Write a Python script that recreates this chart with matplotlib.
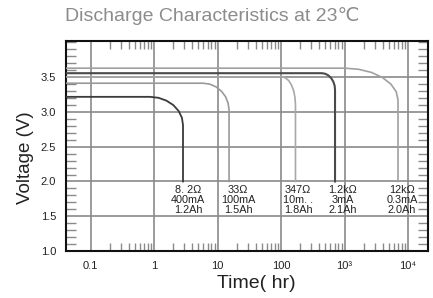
import matplotlib
matplotlib.use("Agg")
import matplotlib.pyplot as plt
from matplotlib.ticker import FixedLocator, NullFormatter

plt.rcParams['font.family'] = ['Liberation Sans', 'DejaVu Sans']

# ---- data ----
t_8r2 = [0.04, 0.865, 1.18, 1.57, 2.01, 2.44, 2.75, 2.86, 2.86]
v_8r2 = [3.217, 3.217, 3.203, 3.162, 3.099, 3.014, 2.917, 2.812, 2.0]

t_33 = [0.04, 5.91, 7.54, 9.47, 11.5, 13.4, 14.7, 15.2, 15.2]
v_33 = [3.413, 3.413, 3.400, 3.361, 3.299, 3.219, 3.125, 3.029, 2.0]

t_347 = [0.04, 103.7, 117.8, 132.8, 146.3, 158.5, 166, 169, 169]
v_347 = [3.504, 3.504, 3.489, 3.449, 3.386, 3.302, 3.206, 3.101, 2.0]

t_1k2 = [0.04, 442, 500, 560, 618, 667, 699, 709, 709]
v_1k2 = [3.557, 3.557, 3.548, 3.524, 3.485, 3.435, 3.378, 3.317, 2.0]

t_12k = [0.04, 1018, 1674, 2663, 3965, 5378, 6518, 6960, 6960]
v_12k = [3.629, 3.629, 3.613, 3.568, 3.495, 3.400, 3.291, 3.173, 2.0]

labels = ["8. 2\u03a9\n400mA\n1.2Ah", "33\u03a9\n100mA\n1.5Ah", "347\u03a9\n10m. .\n1.8Ah",
          "1.2k\u03a9\n3mA\n2.1Ah", "12k\u03a9\n0.3mA\n2.0Ah"]
label_t = [3.43, 21, 185, 947, 8050]
label_v = 1.955

x_major = [0.1, 1, 10, 100, 1000, 10000]
x_labels = ["0.1", "1", "10", "100", "10\u00b3", "10\u2074"]
y_major = [1.0, 1.5, 2.0, 2.5, 3.0, 3.5]
y_labels = ["1.0", "1.5", "2.0", "2.5", "3.0", "3.5"]

# ---- figure ----
fig = plt.figure(figsize=(4.33, 2.98), dpi=100)
ax = fig.add_axes([66/433, 1-251/298, (428-66)/433, (251-41)/298])
ax.set_xscale('log')
ax.set_xlim(0.0411, 20650)
ax.set_ylim(1.0, 4.02)

grid_c = '#8a8a8a'
for x in x_major:
    ax.axvline(x, color=grid_c, lw=1.2, zorder=1)
for y in y_major[1:]:
    ax.axhline(y, color=grid_c, lw=1.2, zorder=1)

ax.plot(t_12k, v_12k, color='#a0a0a0', lw=1.2, zorder=3)
ax.plot(t_1k2, v_1k2, color='#4a4a4a', lw=1.5, zorder=4)
ax.plot(t_347, v_347, color='#a8a8a8', lw=1.2, zorder=3)
ax.plot(t_33, v_33, color='#9a9a9a', lw=1.2, zorder=3)
ax.plot(t_8r2, v_8r2, color='#3a3a3a', lw=1.3, zorder=4)

for s, tx in zip(labels, label_t):
    ax.text(tx, label_v, s, ha='center', va='top', fontsize=7.8, color='#222222',
            linespacing=1.0, zorder=5)

ax.xaxis.set_major_locator(FixedLocator(x_major))
ax.set_xticklabels(x_labels)
minor_x = [m * d for d in [0.1, 1, 10, 100, 1000] for m in range(2, 10)]
ax.xaxis.set_minor_locator(FixedLocator(minor_x))
ax.xaxis.set_minor_formatter(NullFormatter())
ax.yaxis.set_major_locator(FixedLocator(y_major))
ax.set_yticklabels(y_labels)
minor_y = [round(1.0 + 0.1 * i, 2) for i in range(1, 31)]
ax.yaxis.set_minor_locator(FixedLocator(minor_y))

ax.tick_params(axis='both', which='major', length=0, labelsize=8, labelcolor='#222222', pad=7)
ax.tick_params(axis='x', which='minor', direction='in', top=True, bottom=True,
               length=6, width=1, color='#8a8a8a')
ax.tick_params(axis='y', which='minor', direction='in', left=True, right=True,
               length=7, width=1, color='#8a8a8a')

for sp in ax.spines.values():
    sp.set_linewidth(1.5)
    sp.set_color('#111111')

fig.text(212/433, 1-16/298, "Discharge Characteristics at 23\u2103", ha='center', va='center',
         fontsize=14, color='#8c8c8c')
fig.text(25/433, 1-158/298, "Voltage (V)", rotation=90, ha='center', va='center',
         fontsize=13.5, color='#222222')
fig.text(256/433, 1-284/298, "Time( hr)", ha='center', va='center',
         fontsize=14, color='#222222')

fig.savefig("out.png", dpi=100)
